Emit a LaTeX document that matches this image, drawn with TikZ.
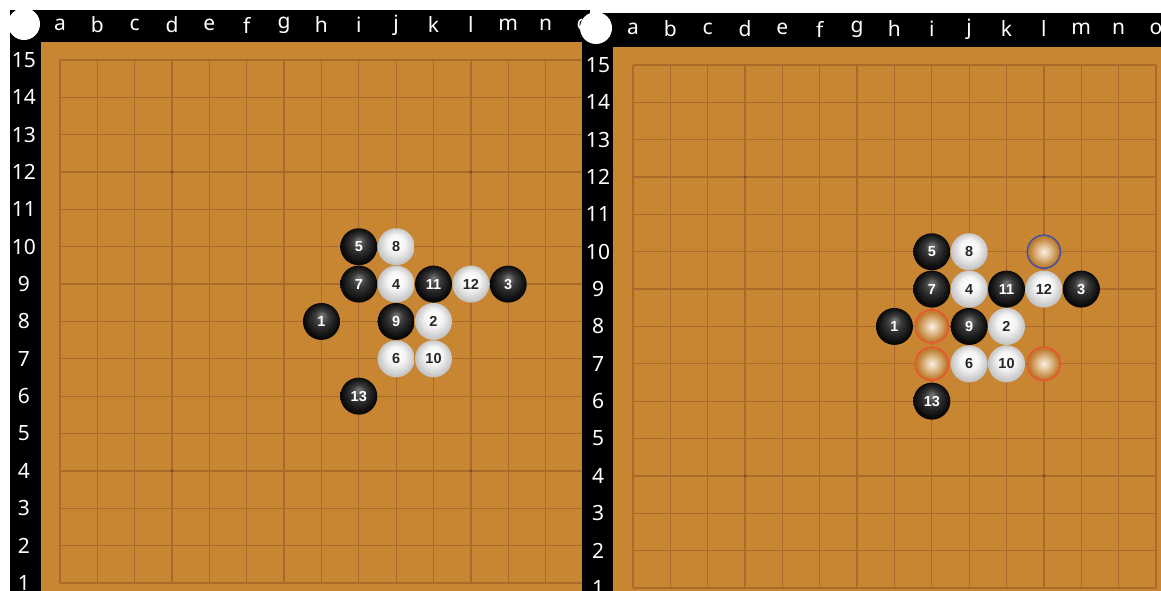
\documentclass[tikz,border=0pt]{standalone}
\usepackage{fontspec}
\setmainfont{Noto Sans}
\newfontfamily\numfont{Liberation Sans}
\definecolor{board}{RGB}{201,134,50}
\definecolor{gridc}{RGB}{170,106,42}
\definecolor{candred}{RGB}{232,84,50}
\definecolor{candblue}{RGB}{70,80,160}
\pgfdeclareradialshading{blackstone}{\pgfpoint{0bp}{9bp}}{color(0bp)=(black!52); color(10bp)=(black!78); color(24bp)=(black!97); color(30bp)=(black)}
\pgfdeclareradialshading{whitestone}{\pgfpoint{0bp}{8bp}}{color(0bp)=(white); color(12bp)=(white!96!black); color(24bp)=(white!78!black); color(30bp)=(white!72!black)}
\pgfdeclareradialshading{candstone}{\pgfpoint{0bp}{0bp}}{color(0bp)=(white!88!board); color(8bp)=(white!55!board); color(22bp)=(board!95!black); color(30bp)=(board)}
\tikzset{
  coordlbl/.style={text=white, font=\fontsize{21}{21}\selectfont, inner sep=0pt},
  stoneb/.style={circle, minimum size=37pt, inner sep=0pt, shading=blackstone, text=white, font=\numfont\fontsize{14.5}{15}\selectfont\bfseries},
  stonew/.style={circle, minimum size=37pt, inner sep=0pt, shading=whitestone, text=black!85, font=\numfont\fontsize{14.5}{15}\selectfont\bfseries},
  candr/.style={circle, minimum size=33pt, inner sep=0pt, shading=candstone, draw=candred, line width=1.6pt},
  candb/.style={circle, minimum size=33pt, inner sep=0pt, shading=candstone, draw=candblue, line width=1.6pt},
  gridline/.style={gridc, line width=1.3pt},
  hoshi/.style={circle, fill=gridc!75!black, minimum size=3.5pt, inner sep=0pt},
  corner/.style={circle, fill=white, minimum size=32pt, inner sep=0pt}
}
\begin{document}
\begin{tikzpicture}[x=1pt,y=-1pt]
\useasboundingbox (0,0) rectangle (1161,591);
\clip (0,0) rectangle (1161,591);
\fill[white] (0,0) rectangle (1161,591);
% ---------- left board ----------
\fill[black] (10,10) rectangle (590,591);
\fill[board] (41,42) rectangle (590,591);
\foreach \i in {0,...,14}{
  \draw[gridline] ({60+\i*37.35},60) -- ({60+\i*37.35},583);
  \draw[gridline] (60,{60+\i*37.35}) -- (583,{60+\i*37.35});
}
\foreach \c/\r [count=\k] in {4/12,12/12,4/4,12/4}
  \node[hoshi] (Lh\k) at ({60+(\c-1)*37.35},{60+(15-\r)*37.35}) {};
\foreach \l [count=\k] in {a,b,c,d,e,f,g,h,i,j,k,l,m,n,o}
  \node[coordlbl] (Lc\k) at ({60+(\k-1)*37.35},25) {\l};
\foreach \k in {1,...,15}
  \node[coordlbl] (Lr\k) at (24,{60+(15-\k)*37.35}) {\k};
\node[corner] (Lcorner) at (24,24) {};
\foreach \c/\r/\n/\s in {8/8/1/b,11/8/2/w,13/9/3/b,10/9/4/w,9/10/5/b,10/7/6/w,9/9/7/b,10/10/8/w,10/8/9/b,11/7/10/w,11/9/11/b,12/9/12/w,9/6/13/b}
  \node[stone\s] (L\n) at ({60+(\c-1)*37.35},{60+(15-\r)*37.35}) {\n};
% ---------- right board ----------
\fill[black] (582,13) rectangle (1161,591);
\fill[board] (613,47) rectangle (1161,591);
\foreach \i in {0,...,14}{
  \draw[gridline] ({633+\i*37.35},65) -- ({633+\i*37.35},588);
  \draw[gridline] (633,{65+\i*37.35}) -- (1156,{65+\i*37.35});
}
\foreach \c/\r [count=\k] in {4/12,12/12,4/4,12/4}
  \node[hoshi] (Rh\k) at ({633+(\c-1)*37.35},{65+(15-\r)*37.35}) {};
\foreach \l [count=\k] in {a,b,c,d,e,f,g,h,i,j,k,l,m,n,o}
  \node[coordlbl] (Rc\k) at ({633+(\k-1)*37.35},29) {\l};
\foreach \k in {1,...,15}
  \node[coordlbl] (Rr\k) at (598,{65+(15-\k)*37.35}) {\k};
\node[corner] (Rcorner) at (596,28) {};
\foreach \c/\r/\n/\s in {8/8/1/b,11/8/2/w,13/9/3/b,10/9/4/w,9/10/5/b,10/7/6/w,9/9/7/b,10/10/8/w,10/8/9/b,11/7/10/w,11/9/11/b,12/9/12/w,9/6/13/b}
  \node[stone\s] (R\n) at ({633+(\c-1)*37.35},{65+(15-\r)*37.35}) {\n};
\foreach \c/\r/\s [count=\k] in {12/10/b,9/8/r,9/7/r,12/7/r}
  \node[cand\s] (Rcand\k) at ({633+(\c-1)*37.35},{65+(15-\r)*37.35}) {};
\end{tikzpicture}
\end{document}
